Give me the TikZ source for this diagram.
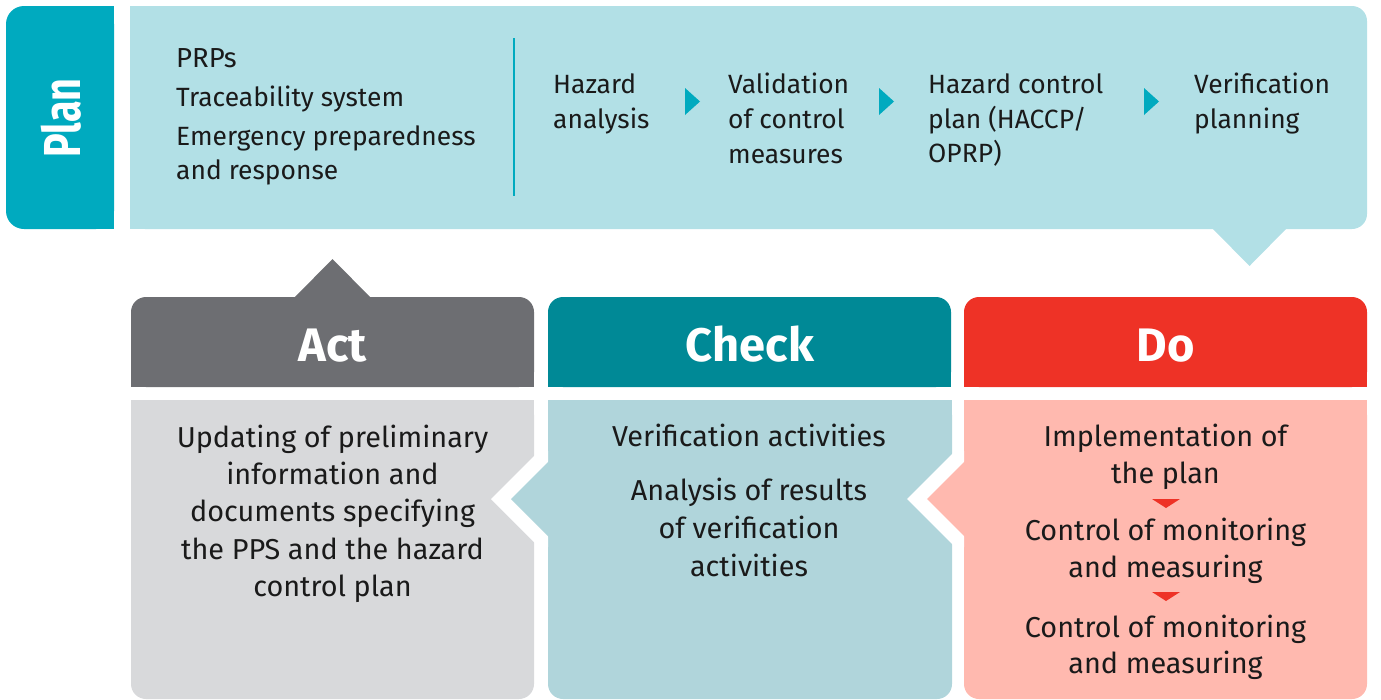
\documentclass[tikz,border=0pt]{standalone}
\usepackage{fontspec}
\setmainfont{Fira Sans}
\definecolor{planDark}{HTML}{00AABF}
\definecolor{planLight}{HTML}{B2E0E6}
\definecolor{actDark}{HTML}{6D6E72}
\definecolor{actLight}{HTML}{D8D9DB}
\definecolor{checkDark}{HTML}{008996}
\definecolor{checkLight}{HTML}{B0D5DB}
\definecolor{doDark}{HTML}{EE3226}
\definecolor{doLight}{HTML}{FFB9AF}
\definecolor{txtcol}{HTML}{1A1A1A}
\begin{document}
\begin{tikzpicture}[x=1pt,y=-1pt,
  txt/.style={font=\fontsize{26.4}{32}\selectfont, text=txtcol, inner sep=0pt, anchor=base west},
  ctxt/.style={font=\fontsize{28.8}{34}\selectfont, text=txtcol, inner sep=0pt, anchor=base},
  title/.style={font=\fontsize{47}{52}\selectfont\bfseries, text=white, inner sep=0pt, anchor=base}]
\useasboundingbox (0,0) rectangle (1381,699);
% Plan tab
\fill[planDark, rounded corners=18] (6,6) rectangle (114,229);
\fill[planDark] (60,6) rectangle (114,229);
\node[font=\fontsize{52}{56}\selectfont\bfseries, text=white, inner sep=0pt, rotate=90, anchor=base] (plan) at (80,118) {\scalebox{0.76}[1]{Plan}};
% top panel
\fill[planLight, rounded corners=15] (130,6) rectangle (1367,229);
\fill[planLight] (130,6) rectangle (200,229);
\fill[planLight] (1212,228) -- (1287,228) -- (1249.5,266) -- cycle;
\draw[planDark, line width=2] (514,38) -- (514,196);
% top texts
\node[txt, font=\fontsize{27.5}{32}\selectfont] (p1) at (176,67) {PRPs};
\node[txt] (p2) at (176,106) {Traceability system};
\node[txt] (p3) at (176,145) {Emergency preparedness};
\node[txt] (p4) at (176,179) {and response};
\node[txt] (h1) at (553,93) {Hazard};
\node[txt] (h2) at (553,128) {analysis};
\node[txt] (v1) at (728,93) {Validation};
\node[txt] (v2) at (728,128) {of control};
\node[txt] (v3) at (728,163) {measures};
\node[txt] (c1) at (928,93) {Hazard control};
\node[txt] (c2) at (928,128) {plan (HACCP/};
\node[txt] (c3) at (928,162) {OPRP)};
\node[txt] (f1) at (1194,93) {Verification};
\node[txt] (f2) at (1194,128) {planning};
% teal arrows
\fill[planDark] (685,88) -- (700,101.5) -- (685,115) -- cycle;
\fill[planDark] (879,88) -- (894,101.5) -- (879,115) -- cycle;
\fill[planDark] (1144,88) -- (1159,101.5) -- (1144,115) -- cycle;
% headers
\fill[actDark, rounded corners=15] (131,297) rectangle (534,387);
\fill[actDark] (131,340) rectangle (534,387);
\fill[actDark] (294,298) -- (371,298) -- (332.5,259) -- cycle;
\fill[checkDark, rounded corners=15] (548,297) rectangle (951,387);
\fill[checkDark] (548,340) rectangle (951,387);
\fill[doDark, rounded corners=15] (964,297) rectangle (1367,387);
\fill[doDark] (964,340) rectangle (1367,387);
\node[title] (act) at (332.5,361) {Act};
\node[title] (check) at (750,361) {Check};
\node[title] (do) at (1165.5,361) {Do};
% bodies
\fill[actLight, rounded corners=15] (131,400) rectangle (534,699);
\fill[actLight] (131,400) rectangle (534,450);
\fill[checkLight, rounded corners=15] (548,400) rectangle (952,699);
\fill[checkLight] (548,400) rectangle (952,450);
\fill[doLight, rounded corners=15] (964,400) rectangle (1367,699);
\fill[doLight] (964,400) rectangle (1367,450);
% notches and arrows
\fill[white] (491,499) -- (539,451) -- (548,451) -- (548,547) -- (539,547) -- cycle;
\fill[checkLight] (511,499) -- (549,461) -- (549,537) -- cycle;
\fill[white] (907,499) -- (955,451) -- (964,451) -- (964,547) -- (955,547) -- cycle;
\fill[doLight] (927,499) -- (965,461) -- (965,537) -- cycle;
% act text
\node[ctxt] (a1) at (332.5,447) {Updating of preliminary};
\node[ctxt] (a2) at (332.5,484) {information and};
\node[ctxt] (a3) at (332.5,521) {documents specifying};
\node[ctxt] (a4) at (332.5,559) {the PPS and the hazard};
\node[ctxt] (a5) at (332.5,596) {control plan};
% check text
\node[ctxt] (k1) at (749,446) {Verification activities};
\node[ctxt] (k2) at (749,500) {Analysis of results};
\node[ctxt] (k3) at (749,538) {of verification};
\node[ctxt] (k4) at (749,576) {activities};
% do text
\node[ctxt] (d1) at (1165.5,446) {Implementation of};
\node[ctxt] (d2) at (1165.5,483) {the plan};
\node[ctxt] (d3) at (1165.5,540) {Control of monitoring};
\node[ctxt] (d4) at (1165.5,577) {and measuring};
\node[ctxt] (d5) at (1165.5,637) {Control of monitoring};
\node[ctxt] (d6) at (1165.5,673) {and measuring};
\fill[doDark] (1152,499) -- (1180,499) -- (1166,508) -- cycle;
\fill[doDark] (1152,592) -- (1180,592) -- (1166,601) -- cycle;
\end{tikzpicture}
\end{document}
